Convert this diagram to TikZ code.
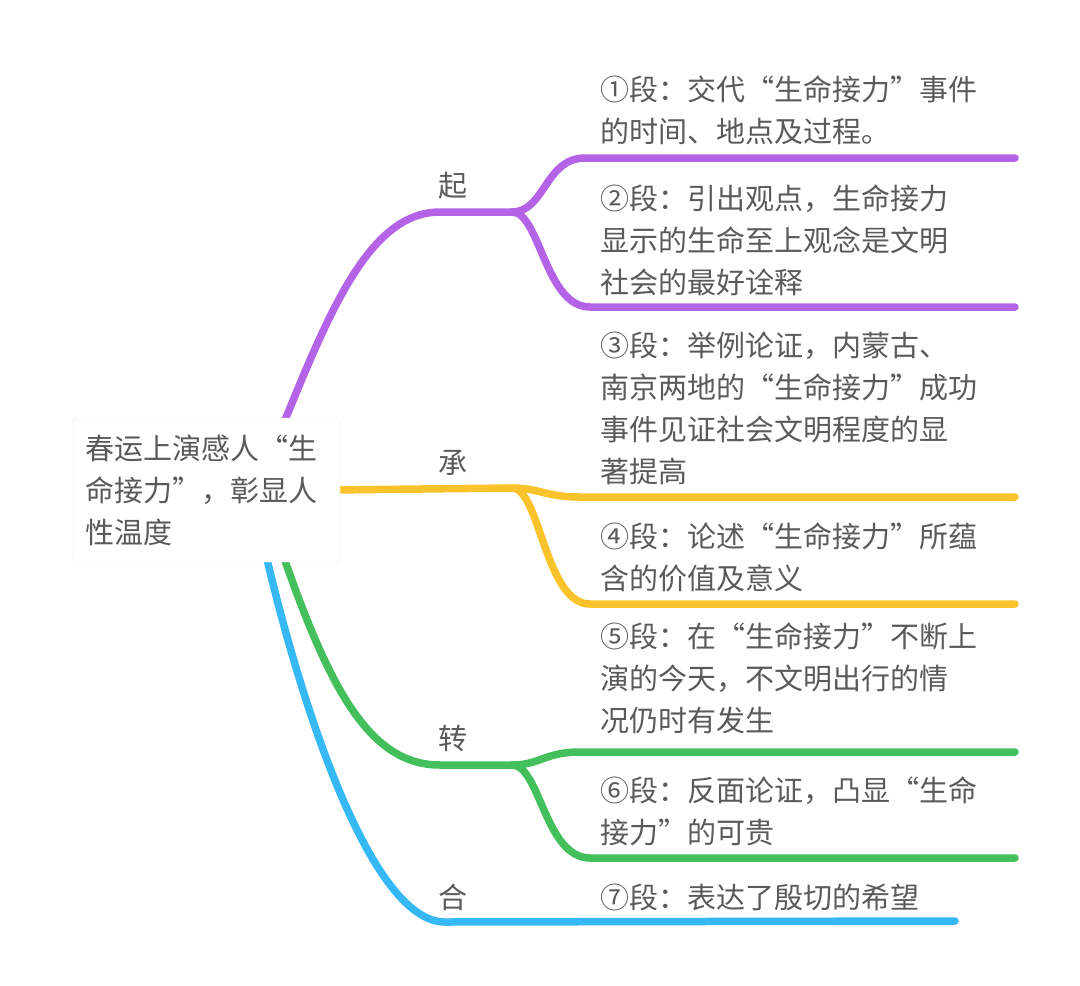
\documentclass[tikz,border=0pt]{standalone}
\usepackage{fontspec}
\setmainfont{Noto Sans CJK SC}
\usepackage{tikz}
\usetikzlibrary{positioning, backgrounds}
\definecolor{mmink}{HTML}{5A5A5A}
\definecolor{mmqi}{HTML}{B563E6}
\definecolor{mmcheng}{HTML}{FAC32B}
\definecolor{mmzhuan}{HTML}{43BF5B}
\definecolor{mmhe}{HTML}{35B8F4}
\newcommand{\mmfont}{\fontsize{29}{42}\selectfont}

\begin{document}
\begin{tikzpicture}[x=1pt, y=-1pt,
  rootbox/.style={draw=black!7, fill=white, rounded corners=6pt, align=left, text width=242pt, inner xsep=13pt, inner ysep=8pt, minimum height=144pt, font=\mmfont, text=mmink},
  leaf/.style={anchor=base west, align=left, inner sep=0pt, font=\mmfont, text=mmink},
  tag/.style={anchor=base, inner sep=0pt, font=\mmfont, text=mmink},
  branch/.style={line width=7.5pt, line cap=round}
]
  \useasboundingbox (0,0) rectangle (1080,986);

  \node[rootbox] (root) at (206,490) {春运上演感人“生\\命接力”，彰显人\\性温度};

  \node[tag] (qi) at (453,196) {起};
  \node[tag] (cheng) at (453,473) {承};
  \node[tag] (zhuan) at (453,749) {转};
  \node[tag] (he) at (453,908) {合};

  % anchored at the baseline of the last line
  \node[leaf] (p1) at (600,142) {①段：交代“生命接力”事件\\的时间、地点及过程。};
  \node[leaf] (p2) at (600,293) {②段：引出观点，生命接力\\显示的生命至上观念是文明\\社会的最好诠释};
  \node[leaf] (p3) at (600,482) {③段：举例论证，内蒙古、\\南京两地的“生命接力”成功\\事件见证社会文明程度的显\\著提高};
  \node[leaf] (p4) at (600,589) {④段：论述“生命接力”所蕴\\含的价值及意义};
  \node[leaf] (p5) at (600,731) {⑤段：在“生命接力”不断上\\演的今天，不文明出行的情\\况仍时有发生};
  \node[leaf] (p6) at (600,843) {⑥段：反面论证，凸显“生命\\接力”的可贵};
  \node[leaf] (p7) at (600,908) {⑦段：表达了殷切的希望};

  % fork points and line ends
  \coordinate (qiout) at (283,425);
  \coordinate (chengout) at (330,490);
  \coordinate (zhuanout) at (283,555);
  \coordinate (heout) at (266,555);
  \coordinate (qifork) at (512,212);
  \coordinate (chengfork) at (512,488);
  \coordinate (zhuanfork) at (512,765);
  \coordinate (heend) at (955,921);
  \coordinate (p1end) at (1015,158);
  \coordinate (p2end) at (1015,307);
  \coordinate (p3end) at (1015,497);
  \coordinate (p4end) at (1015,604);
  \coordinate (p5end) at (1015,752);
  \coordinate (p6end) at (1015,858);

  \begin{scope}[on background layer]
    \draw[branch, mmqi] (qiout) .. controls (330,310) and (370,212) .. (440,212) -- (qifork);
    \draw[branch, mmqi] (qifork) .. controls (545,212) and (545,158) .. (585,158) -- (p1end);
    \draw[branch, mmqi] (qifork) .. controls (540,212) and (545,307) .. (590,307) -- (p2end);

    \draw[branch, mmcheng] (chengout) -- (chengfork);
    \draw[branch, mmcheng] (chengfork) .. controls (540,488) and (545,497) .. (580,497) -- (p3end);
    \draw[branch, mmcheng] (chengfork) .. controls (540,488) and (545,604) .. (590,604) -- (p4end);

    \draw[branch, mmzhuan] (zhuanout) .. controls (330,690) and (370,765) .. (440,765) -- (zhuanfork);
    \draw[branch, mmzhuan] (zhuanfork) .. controls (540,765) and (545,752) .. (580,752) -- (p5end);
    \draw[branch, mmzhuan] (zhuanfork) .. controls (540,765) and (545,858) .. (590,858) -- (p6end);

    \draw[branch, mmhe] (heout) .. controls (300,700) and (370,922) .. (445,922) -- (heend);
  \end{scope}
\end{tikzpicture}
\end{document}
